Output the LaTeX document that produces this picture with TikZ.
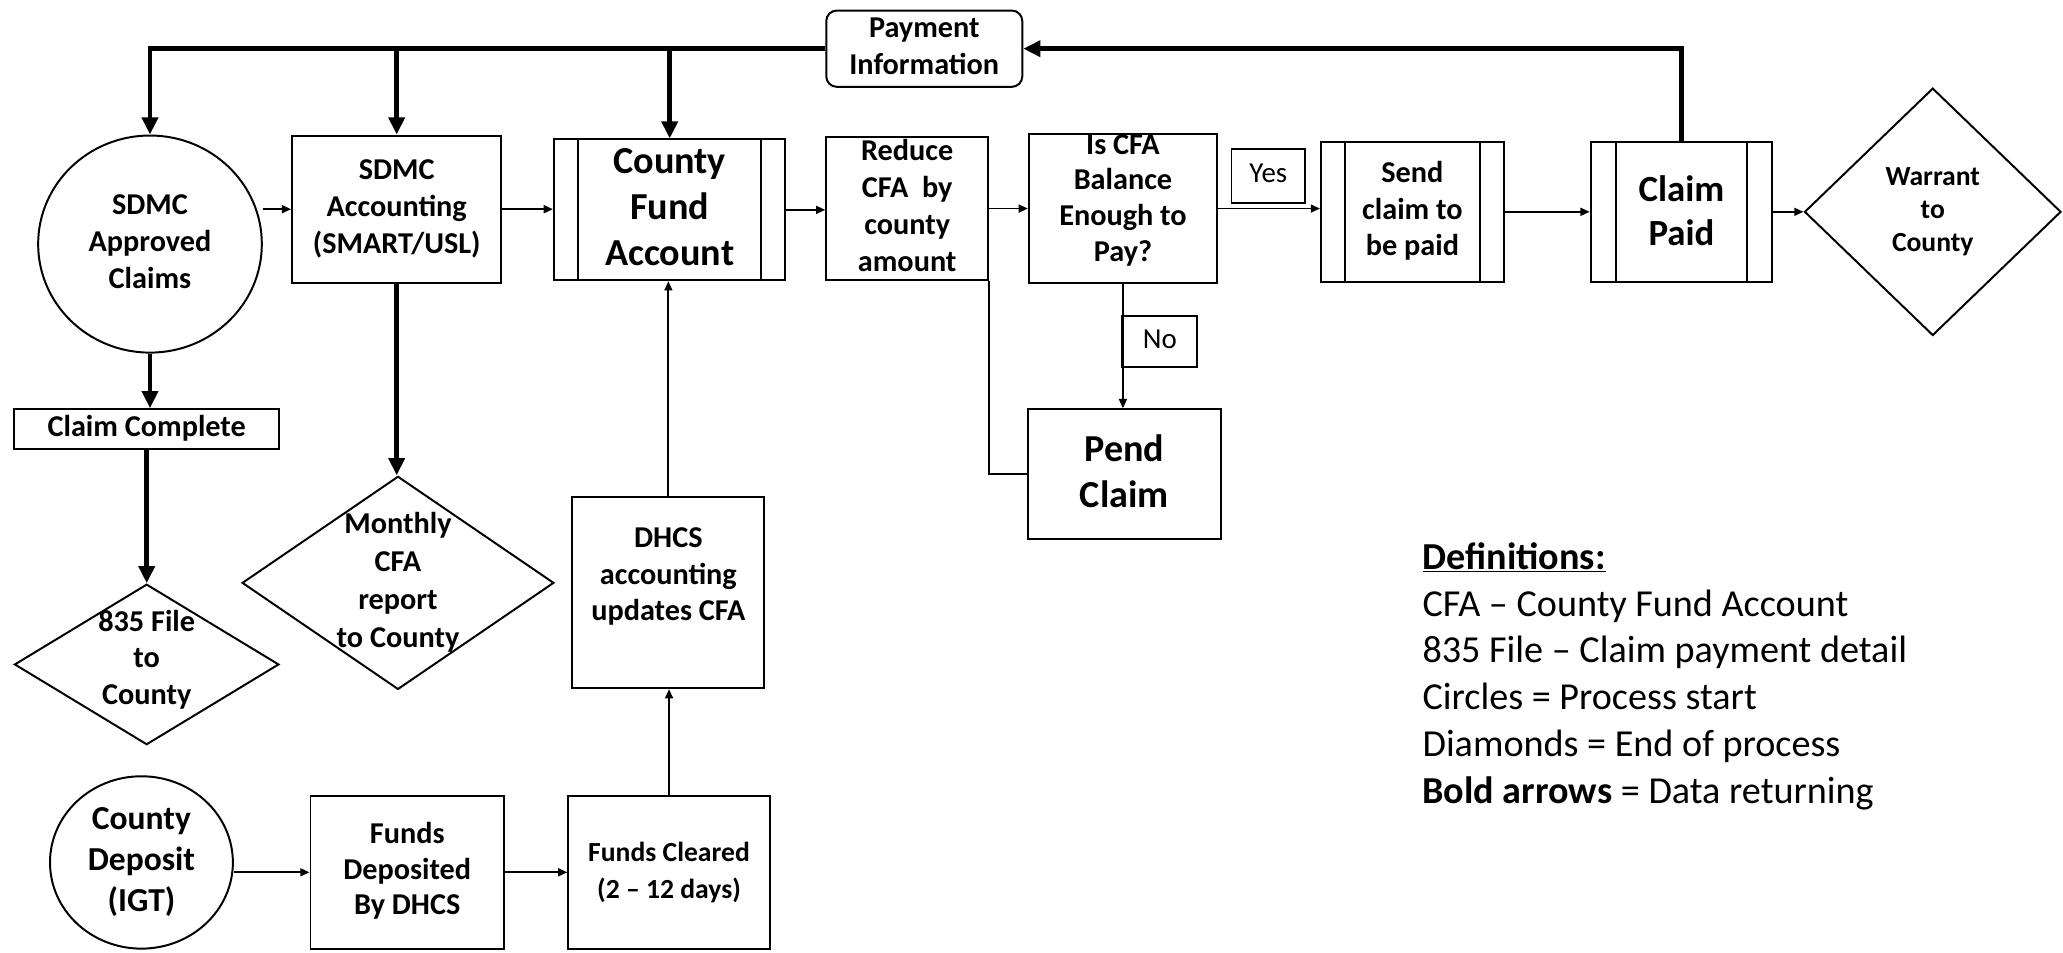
\documentclass[tikz,border=0pt]{standalone}
\usepackage{fontspec}
\setmainfont{Carlito}
\usetikzlibrary{shapes.geometric,arrows.meta}
\newcommand\ctrtext[1]{\makebox[0pt]{\vbox to 0pt{\vss\hbox{\begin{tabular}{@{}c@{}}#1\end{tabular}}\vss}}}
\begin{document}
\begin{tikzpicture}[x=1pt,y=-1pt,
  every node/.style={inner sep=0pt},
  nf/.style={font=\fontsize{23}{28}\selectfont\bfseries},
  boxnode/.style={draw, line width=1.5pt, rectangle, nf},
  ovalnode/.style={draw, line width=1.5pt, ellipse, nf},
  rhombnode/.style={draw, line width=1.5pt, diamond, nf},
  thinarrow/.style={line width=1.4pt, -{Triangle[length=7pt,width=6pt]}},
  boldarrow/.style={line width=3.5pt, -{Triangle[length=13pt,width=12pt]}},
  thinline/.style={line width=1.4pt},
  innerline/.style={line width=1.5pt}
]
\useasboundingbox[fill=white] (0,0) rectangle (1568,724);

% top row
\node[boxnode, rounded corners=8pt, minimum width=149pt, minimum height=58pt] (pay) at (702.5,37) {\ctrtext{Payment\\Information}};
\node[ovalnode, minimum width=170pt, minimum height=165pt] (sdmc) at (114,185.5) {\ctrtext{SDMC\\Approved\\Claims}};
\node[boxnode, minimum width=159pt, minimum height=112pt] (acc) at (301.5,159) {\ctrtext{SDMC\\Accounting\\(SMART/USL)}};
\node[boxnode, font=\fontsize{29}{35}\selectfont\bfseries, minimum width=176pt, minimum height=107pt] (cfa) at (509,159.5) {\ctrtext{County\\Fund\\Account}};
\node[boxnode, minimum width=123pt, minimum height=109pt] (red) at (689.5,158.5) {\ctrtext{Reduce\\CFA\ \ by\\county\\amount}};
\node[boxnode, font=\fontsize{23}{27}\selectfont\bfseries, minimum width=143pt, minimum height=113pt] (isc) at (853.5,158.5) {\raisebox{6pt}[0pt][0pt]{\ctrtext{Is CFA\\Balance\\Enough to\\Pay?}}};
\node[boxnode, font=\fontsize{22}{27}\selectfont, minimum width=56pt, minimum height=41pt] (yes) at (964,133.5) {\ctrtext{Yes}};
\node[boxnode, font=\fontsize{23}{27.5}\selectfont\bfseries, minimum width=139pt, minimum height=106pt] (send) at (1073.5,161) {\ctrtext{Send\\claim to\\be paid}};
\node[boxnode, font=\fontsize{28}{34}\selectfont\bfseries, minimum width=138pt, minimum height=106pt] (paid) at (1278,161) {\raisebox{-2pt}[0pt][0pt]{\ctrtext{Claim\\Paid}}};
\node[rhombnode, font=\fontsize{21}{25}\selectfont\bfseries, minimum width=195pt, minimum height=188pt] (warr) at (1469,161) {\ctrtext{Warrant\\to\\County}};

% decision branch
\node[boxnode, font=\fontsize{22}{27}\selectfont, minimum width=57pt, minimum height=39pt] (no) at (881.5,259.5) {\ctrtext{No}};
\node[boxnode, font=\fontsize{29}{35}\selectfont\bfseries, minimum width=147pt, minimum height=99pt] (pend) at (854.5,360.5) {\raisebox{-1pt}[0pt][0pt]{\ctrtext{Pend\\Claim}}};

% left column
\node[boxnode, minimum width=201pt, minimum height=30pt] (cc) at (111.5,326) {\ctrtext{Claim Complete}};
\node[rhombnode, minimum width=201pt, minimum height=122pt] (f835) at (111.5,505) {\raisebox{3pt}[0pt][0pt]{\ctrtext{835 File\\to\\County}}};
\node[rhombnode, font=\fontsize{23}{29}\selectfont\bfseries, minimum width=237pt, minimum height=162pt] (monthly) at (302.5,443) {\ctrtext{Monthly\\CFA\\report\\to County}};
\node[boxnode, font=\fontsize{23}{27.5}\selectfont\bfseries, minimum width=146pt, minimum height=145pt] (dhcs) at (508,450.5) {\raisebox{12pt}[0pt][0pt]{\ctrtext{DHCS\\accounting\\updates CFA}}};

% bottom row
\node[ovalnode, font=\fontsize{25.5}{31}\selectfont\bfseries, minimum width=139pt, minimum height=131pt] (cdep) at (107.5,655.5) {\ctrtext{County\\Deposit\\(IGT)}};
\node[boxnode, font=\fontsize{23}{27}\selectfont\bfseries, minimum width=147pt, minimum height=116pt] (fdep) at (309.5,663) {\ctrtext{Funds\\Deposited\\By DHCS}};
\node[boxnode, font=\fontsize{21}{28}\selectfont\bfseries, minimum width=153pt, minimum height=116pt] (cleared) at (508.5,663) {\ctrtext{Funds Cleared\\(2 -- 12 days)}};

% legend
\node[anchor=west, align=left, font=\fontsize{29}{35.6}\selectfont] (legend) at (1081,514) {\textbf{\underline{Definitions:}}\\CFA -- County Fund Account\\835 File -- Claim payment detail\\Circles = Process start\\Diamonds = End of process\\\textbf{Bold arrows} = Data returning};

% predefined-process inner lines
\foreach \n/\d in {cfa/19,send/19,paid/20} {
  \draw[innerline] ([xshift=\d pt]\n.north west) -- ([xshift=\d pt]\n.south west);
  \draw[innerline] ([xshift=-\d pt]\n.north east) -- ([xshift=-\d pt]\n.south east);
}

% bold (data returning) arrows
\draw[boldarrow] (paid.north) |- (pay.east);
\draw[boldarrow] (pay.west) -| (sdmc.north);
\draw[boldarrow] (acc.north |- pay.west) -- (acc.north);
\draw[boldarrow] (cfa.north |- pay.west) -- (cfa.north);
\draw[boldarrow] (sdmc.south) -- (sdmc.south |- cc.north);
\draw[boldarrow] (cc.south) -- (cc.south |- f835.north);
\draw[boldarrow] (acc.south) -- (acc.south |- monthly.north);

% thin process arrows
\draw[thinarrow] (sdmc.east |- acc.west) -- (acc.west);
\draw[thinarrow] (acc.east) -- (acc.east -| cfa.west);
\draw[thinarrow] (cfa.east) -- (cfa.east -| red.west);
\draw[thinarrow] (red.east) -- (red.east -| isc.west);
\draw[thinarrow] (isc.east) -- (isc.east -| send.west);
\draw[thinarrow] (send.east) -- (send.east -| paid.west);
\draw[thinarrow] (paid.east) -- (warr.west);
\draw[thinarrow] (isc.south) -- (isc.south |- pend.north);
\draw[thinline] (red.south east) |- (pend.west);
\draw[thinarrow] (dhcs.north) -- (dhcs.north |- cfa.south);
\draw[thinarrow] (cleared.north) -- (cleared.north |- dhcs.south);
\draw[thinarrow] (cdep.east |- fdep.west) -- (fdep.west);
\draw[thinarrow] (fdep.east) -- (fdep.east -| cleared.west);
\end{tikzpicture}
\end{document}
